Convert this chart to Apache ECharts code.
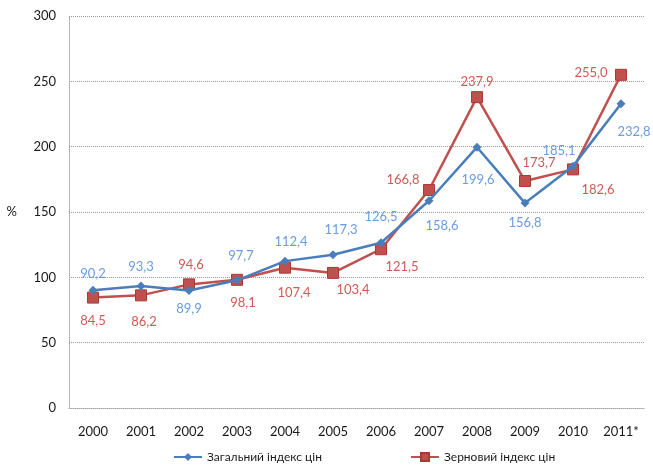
<!DOCTYPE html>
<html>
<head>
<meta charset="utf-8">
<script src="https://cdn.jsdelivr.net/npm/echarts@6/dist/echarts.min.js"></script>
<style>
  html, body { margin: 0; padding: 0; background: #ffffff; }
  #chart { width: 653px; height: 475px; }
</style>
</head>
<body>
<div id="chart"></div>
<script>
// Price indices, %, 2000–2011*
const years = ['2000', '2001', '2002', '2003', '2004', '2005', '2006', '2007', '2008', '2009', '2010', '2011*'];
const generalIndex = [90.2, 93.3, 89.9, 97.7, 112.4, 117.3, 126.5, 158.6, 199.6, 156.8, 185.1, 232.8];
const grainIndex = [84.5, 86.2, 94.6, 98.1, 107.4, 103.4, 121.5, 166.8, 237.9, 173.7, 182.6, 255.0];
const yTicks = [0, 50, 100, 150, 200, 250, 300];

// label offsets from each point (px), as placed in the reference
const generalOffset = [[0, -16], [0, -19], [0, 18], [4, -25], [6, -19], [8, -25], [0, -26], [13, 25], [1, 33], [0, 20], [-14, -15], [13, 28]];
const grainOffset = [[0, 23], [3, 26], [2, -20], [6, 23], [9, 25], [20, 17], [21, 18], [-26, -10], [0, -15], [14, -18], [25, 20], [-30, -2]];

const FONT = 'Lato, "Open Sans", sans-serif';
const BLUE = '#4a7ebb', BLUE_TXT = '#6b9be0';
const RED = '#c0504d', RED_TXT = '#d05a55';
const fmt = (v) => v.toFixed(1).replace('.', ',');

function points(values, offsets) {
  return values.map((v, i) => ({ value: v, label: { offset: offsets[i] } }));
}

function pointLabel(color) {
  return {
    show: true,
    position: 'inside',
    align: 'center',
    verticalAlign: 'middle',
    color,
    fontSize: 13,
    formatter: (p) => fmt(p.value),
  };
}

const chart = echarts.init(document.getElementById('chart'), null, { renderer: 'canvas' });
chart.setOption({
  animation: false,
  textStyle: { fontFamily: FONT },
  grid: { left: 69, right: 8, top: 16, bottom: 67, containLabel: false },
  legend: {
    bottom: 7,
    left: 168,
    itemGap: 88,
    itemWidth: 28,
    itemHeight: 10,
    textStyle: { color: '#1a1a1a', fontSize: 12, fontFamily: FONT },
    data: ['Загальний індекс цін', 'Зерновий індекс цін'],
  },
  xAxis: {
    type: 'category',
    data: years,
    boundaryGap: true,
    axisLine: { lineStyle: { color: '#a6a6a6', type: 'dotted' } },
    axisTick: { show: false },
    axisLabel: { color: '#1a1a1a', fontSize: 13, margin: 17 },
  },
  yAxis: {
    type: 'value',
    min: yTicks[0],
    max: yTicks[yTicks.length - 1],
    interval: 50,
    name: '%',
    nameLocation: 'middle',
    nameRotate: 0,
    nameGap: 52,
    nameTextStyle: { color: '#1a1a1a', fontSize: 13 },
    axisLine: { show: true, lineStyle: { color: '#a6a6a6', type: 'dotted' } },
    axisTick: { show: false },
    axisLabel: { color: '#1a1a1a', fontSize: 13, margin: 13 },
    splitLine: { lineStyle: { color: '#9a9a9a', type: 'dotted', width: 1 } },
  },
  series: [
    {
      name: 'Зерновий індекс цін',
      type: 'line',
      data: points(grainIndex, grainOffset),
      symbol: 'rect',
      symbolSize: 11,
      lineStyle: { color: RED, width: 2.5 },
      itemStyle: { color: RED, borderColor: '#a83a37', borderWidth: 1 },
      label: pointLabel(RED_TXT),
      z: 3,
    },
    {
      name: 'Загальний індекс цін',
      type: 'line',
      data: points(generalIndex, generalOffset),
      symbol: 'diamond',
      symbolSize: 9,
      lineStyle: { color: BLUE, width: 2.5 },
      itemStyle: { color: BLUE },
      label: pointLabel(BLUE_TXT),
      z: 4,
    },
  ],
});
</script>
</body>
</html>
